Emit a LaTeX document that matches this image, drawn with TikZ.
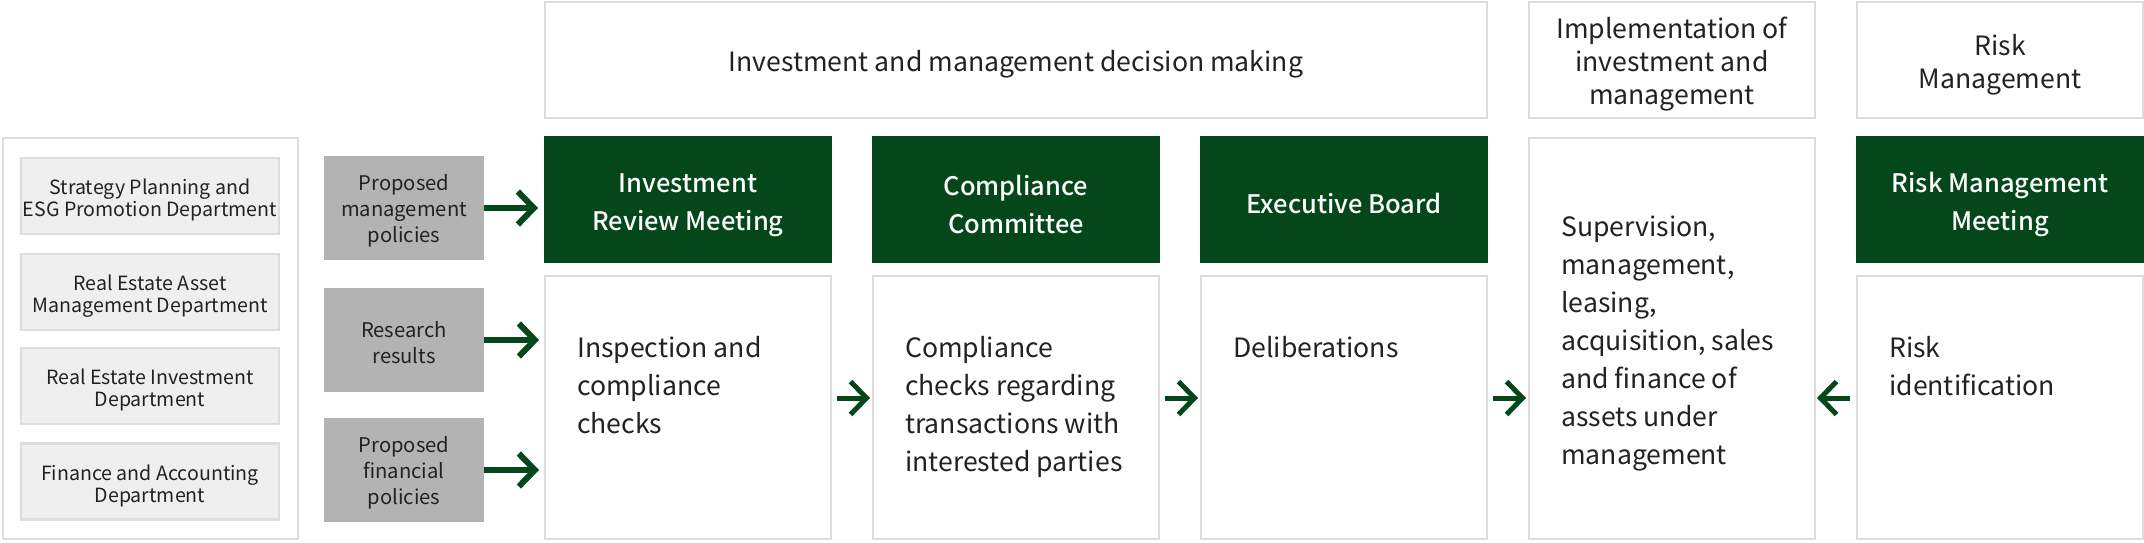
\documentclass[tikz,border=0pt]{standalone}
\usepackage{fontspec}
\setmainfont{Noto Sans CJK JP}
\newfontfamily\mediumfont{Noto Sans CJK JP Medium}
\usetikzlibrary{arrows.meta}
\definecolor{DeepGreen}{RGB}{3,71,26}
\definecolor{EdgeGray}{RGB}{221,221,221}
\definecolor{PaleGray}{RGB}{239,239,239}
\definecolor{MidGray}{RGB}{179,179,179}
\definecolor{InkGray}{RGB}{34,34,34}

\begin{document}
\begin{tikzpicture}[x=1pt,y=-1pt,
	cell/.style={draw=EdgeGray,line width=2pt,fill=white,inner sep=0pt,outer sep=0pt},
	head/.style={cell,minimum width=286pt,minimum height=116pt,align=center,text=InkGray,font=\fontsize{26.6}{33}\selectfont},
	panel/.style={cell,minimum width=286pt,minimum height=263pt},
	gate/.style={fill=DeepGreen,text=white,minimum width=288pt,minimum height=127pt,inner sep=0pt,outer sep=0pt,align=center,font=\mediumfont\fontsize{25.5}{37.5}\selectfont},
	dept/.style={draw=EdgeGray,line width=2.5pt,fill=PaleGray,minimum width=258pt,minimum height=76pt,inner sep=0pt,align=center,text=InkGray,font=\fontsize{19.6}{22}\selectfont},
	feed/.style={fill=MidGray,minimum width=160pt,minimum height=104pt,inner sep=0pt,outer sep=0pt,align=center,text=InkGray,font=\fontsize{20.2}{26}\selectfont},
	body/.style={anchor=north west,inner sep=0pt,align=left,text=InkGray,font=\fontsize{26.6}{38}\selectfont},
	flow/.style={draw=DeepGreen,line width=5pt,-{Straight Barb[length=16pt,width=33pt]}}
]
	\useasboundingbox (0,0) rectangle (2144,542);

	\node[head,minimum width=942pt] (decTop) at (1016,59.5) {\rule{0pt}{30pt}Investment and management decision making};
	\node[head] (implTop) at (1672,59.5) {\rule{0pt}{30pt}Implementation of\\investment and\\management};
	\node[head] (riskTop) at (2000,59.5) {\rule{0pt}{32pt}Risk\\Management};

	\node[cell,minimum width=295pt,minimum height=401pt] (depts) at (150.5,338.5) {};
	\node[dept] (strategy) at (150,196) {\rule{0pt}{24pt}Strategy Planning and\\ESG Promotion Department};
	\node[dept] (assetMgmt) at (150,292) {\rule{0pt}{24pt}Real Estate Asset\\Management Department};
	\node[dept] (investDept) at (150,386) {\rule{0pt}{24pt}Real Estate Investment\\Department};
	\node[dept] (finance) at (150,481.5) {\rule{0pt}{24pt}Finance and Accounting\\Department};

	\node[feed] (mgmtPolicy) at (404,208) {\rule{0pt}{22pt}Proposed\\management\\policies};
	\node[feed] (research) at (404,340) {\rule{0pt}{22pt}Research\\results};
	\node[feed] (finPolicy) at (404,470) {\rule{0pt}{22pt}Proposed\\financial\\policies};

	\node[gate] (irm) at (688,199.5) {\rule{0pt}{30pt}Investment\\Review Meeting};
	\node[gate] (cc) at (1016,199.5) {\rule{0pt}{30pt}Compliance\\Committee};
	\node[gate] (eb) at (1344,199.5) {\rule{0pt}{28pt}Executive Board};
	\node[gate] (rmm) at (2000,199.5) {\rule{0pt}{30pt}Risk Management\\Meeting};

	\node[panel] (irmBody) at (688,407.5) {};
	\node[panel] (ccBody) at (1016,407.5) {};
	\node[panel] (ebBody) at (1344,407.5) {};
	\node[panel,minimum height=401pt] (implBody) at (1672,338.5) {};
	\node[panel] (riskBody) at (2000,407.5) {};

	\node[body] (irmText) at ([shift={(32,55)}]irmBody.north west) {\strut Inspection and\\compliance\\checks};
	\node[body] (ccText) at ([shift={(32,55)}]ccBody.north west) {\strut Compliance\\checks regarding\\transactions with\\interested parties};
	\node[body] (ebText) at ([shift={(32,55)}]ebBody.north west) {\strut Deliberations};
	\node[body] (implText) at ([shift={(32,72)}]implBody.north west) {\strut Supervision,\\management,\\leasing,\\acquisition, sales\\and finance of\\assets under\\management};
	\node[body] (riskText) at ([shift={(32,55)}]riskBody.north west) {\strut Risk\\identification};

	\draw[flow,line width=6pt,shorten >=6pt] (mgmtPolicy.east) -- (mgmtPolicy.east -| irm.west);
	\draw[flow,line width=6pt,shorten >=6pt] (research.east) -- (research.east -| irmBody.west);
	\draw[flow,line width=6pt,shorten >=6pt] (finPolicy.east) -- (finPolicy.east -| irmBody.west);

	\draw[flow,shorten <=6pt,shorten >=3pt] ([yshift=9.5pt]irmBody.east) -- ([yshift=9.5pt]ccBody.west);
	\draw[flow,shorten <=6pt,shorten >=3pt] ([yshift=9.5pt]ccBody.east) -- ([yshift=9.5pt]ebBody.west);
	\draw[flow,shorten <=6pt,shorten >=3pt] ([yshift=9.5pt]ebBody.east) -- ([yshift=9.5pt]ebBody.east -| implBody.west);
	\draw[flow,shorten <=7pt,shorten >=2pt] ([yshift=9.5pt]riskBody.west) -- ([yshift=9.5pt]riskBody.west -| implBody.east);

\end{tikzpicture}
\end{document}
